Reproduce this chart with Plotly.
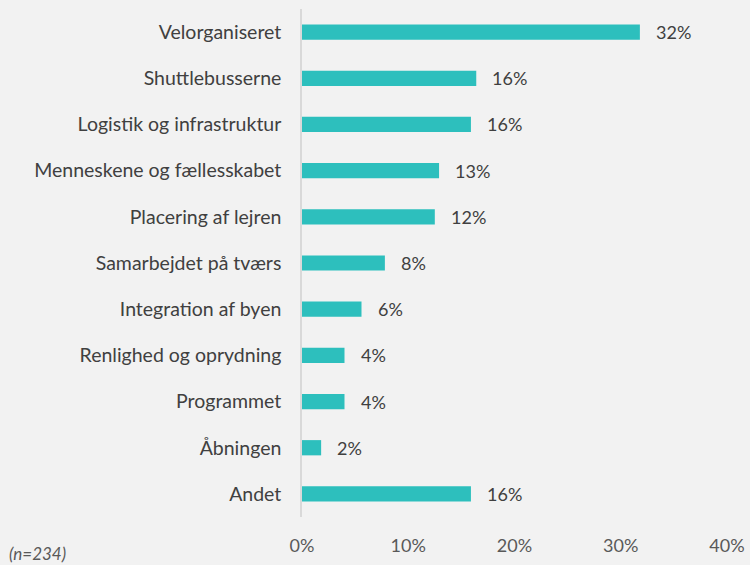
import plotly.graph_objects as go

categories = ["Velorganiseret", "Shuttlebusserne", "Logistik og infrastruktur",
              "Menneskene og fællesskabet", "Placering af lejren", "Samarbejdet på tværs",
              "Integration af byen", "Renlighed og oprydning", "Programmet", "Åbningen", "Andet"]
values = [31.8, 16.4, 15.9, 12.9, 12.5, 7.8, 5.6, 4.0, 4.0, 1.8, 15.9]
labels = ["32%", "16%", "16%", "13%", "12%", "8%", "6%", "4%", "4%", "2%", "16%"]
tick_vals = [0, 10, 20, 30, 40]
tick_text = ["0%", "10%", "20%", "30%", "40%"]

FONT = "Lato, 'Open Sans', sans-serif"

fig = go.Figure(go.Bar(
    x=values, y=categories, orientation="h",
    marker=dict(color="#2dbfbd", line=dict(width=0)),
    width=0.33,
    hoverinfo="skip",
))

for c, v, t in zip(categories, values, labels):
    fig.add_annotation(x=v, y=c, text=t, showarrow=False, xanchor="left",
                       xshift=14, font=dict(family=FONT, size=18, color="#404040"))

fig.add_annotation(xref="paper", yref="paper", x=-0.693, y=-0.071, xanchor="left",
                   yanchor="middle", text="<i>(n=234)</i>", showarrow=False,
                   font=dict(family=FONT, size=17, color="#595959"))

fig.update_layout(
    width=750, height=565, autosize=False,
    margin=dict(l=302, r=23, t=9, b=48, pad=0),
    paper_bgcolor="#f2f2f2", plot_bgcolor="#f2f2f2",
    showlegend=False,
    font=dict(family=FONT, color="#404040"),
    xaxis=dict(range=[0, 40], tickvals=tick_vals, ticktext=tick_text,
               showgrid=False, zeroline=False, showline=False, automargin=False,
               ticks="outside", ticklen=12, tickcolor="rgba(0,0,0,0)",
               tickfont=dict(family=FONT, size=18, color="#595959")),
    yaxis=dict(autorange="reversed", showgrid=False, zeroline=False, automargin=False,
               showline=True, linecolor="#d9d9d9", linewidth=1.5,
               ticks="outside", ticklen=15, tickcolor="rgba(0,0,0,0)",
               tickfont=dict(family=FONT, size=19.5, color="#404040")),
)

fig.write_html("out.html", config={"displayModeBar": False},
               post_script="document.body.style.margin='0';")
